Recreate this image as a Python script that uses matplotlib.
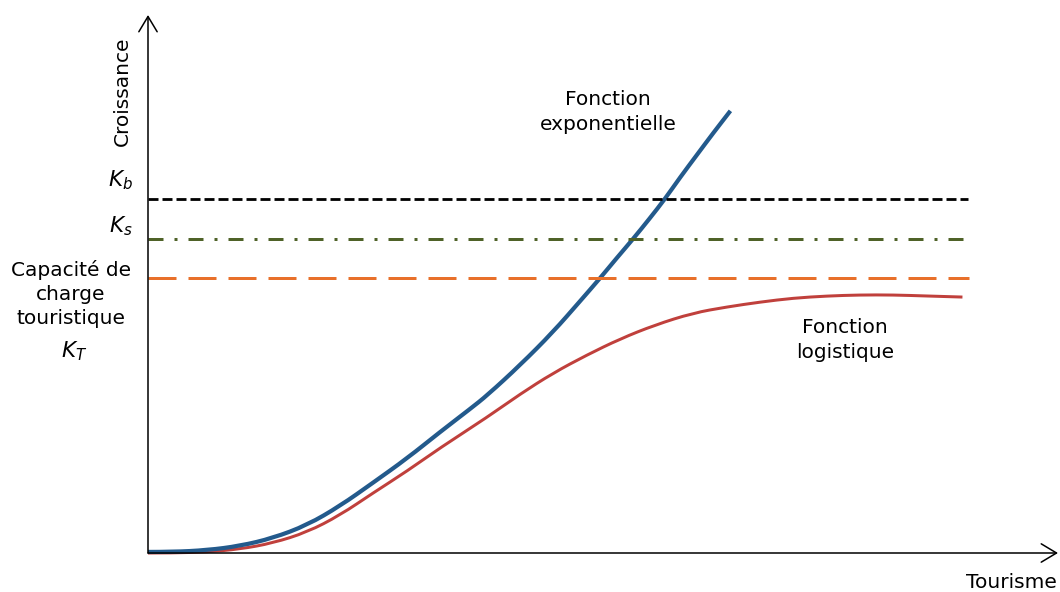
import matplotlib
matplotlib.use("Agg")
import matplotlib.pyplot as plt
from matplotlib.path import Path
from matplotlib.patches import PathPatch

plt.rcParams['font.family'] = ['DejaVu Sans']
plt.rcParams['mathtext.fontset'] = 'dejavusans'
plt.rcParams['lines.scale_dashes'] = False

# ---- data (Tourisme units 0..100, Croissance units with K_b = 100) ----
exp_x = [0, 2.7, 6.5, 10.1, 13.7, 17.5, 21.1, 24.7, 28.5, 32.1, 35.4, 37.3,
         40.9, 44.5, 47.5, 49.7, 51.5, 53.3, 55.1, 56.8, 58.5, 60.3, 62.1, 64.0]
exp_y = [0.3, 0.3, 0.8, 2.0, 4.2, 7.9, 13.3, 19.8, 26.8, 34.2, 40.7, 44.6,
         53.1, 62.4, 71.2, 77.7, 83.3, 88.7, 94.4, 100.0, 106.2, 112.4, 118.6, 124.9]

log_x = [0, 2.7, 6.5, 10.1, 13.7, 17.5, 21.1, 24.7, 28.5, 32.1, 37.3, 40.9,
         44.5, 48.2, 51.9, 55.7, 59.9, 63.6, 67.3, 70.9, 74.6, 78.2, 81.9, 85.6, 89.5]
log_y = [0, 0, 0.3, 1.1, 2.8, 5.9, 10.7, 16.9, 23.2, 29.7, 38.4, 44.9,
         50.8, 55.9, 60.5, 64.4, 67.8, 69.5, 70.9, 72.0, 72.6, 72.9, 72.9, 72.6, 72.3]

K_b = 100.0
K_s = 88.7
K_T = 77.7
k_line_end = [90.1, 89.6, 90.2]

x_label = "Tourisme"
y_label = "Croissance"
exp_label = "Fonction\nexponentielle"
log_label = "Fonction\nlogistique"
kt_label = "Capacité de\ncharge\ntouristique"

# ---- figure ----
W, H = 1060, 592
fig = plt.figure(figsize=(W / 100, H / 100), dpi=100)
ax = fig.add_axes([0, 0, 1, 1])
sx, sy = 9.1, 3.54          # px per unit
ox, oy = 148, 553           # origin pixel
ax.set_xlim(-ox / sx, (W - ox) / sx)
ax.set_ylim(-(H - oy) / sy, oy / sy)
ax.axis('off')

px = 0.72  # points per pixel

# axes with open arrows
arrow_kw = dict(arrowstyle='->,head_length=0.55,head_width=0.33', lw=1.1,
                color='black', mutation_scale=20, shrinkA=0, shrinkB=0)
ax.annotate('', xy=(0, (oy - 15) / sy), xytext=(0, 0), arrowprops=arrow_kw)
ax.annotate('', xy=((1058 - ox) / sx, 0), xytext=(0, 0), arrowprops=arrow_kw)

# horizontal thresholds
ax.plot([0, k_line_end[0]], [K_b, K_b], color='black', lw=2.8 * px,
        dashes=(10 * px, 4 * px), dash_capstyle='butt')
ax.plot([0, k_line_end[1]], [K_s, K_s], color='#4f6228', lw=3 * px,
        dashes=(15 * px, 11 * px, 3 * px, 11 * px), dash_capstyle='butt')
ax.plot([0, k_line_end[2]], [K_T, K_T], color='#e8702a', lw=3 * px,
        dashes=(28 * px, 12 * px), dash_capstyle='butt')


def smooth_curve(xs, ys, color, lw):
    """Smoothed line through the read points (quadratic Bezier segments)."""
    verts = [(xs[0], ys[0])]
    codes = [Path.MOVETO]
    for i in range(1, len(xs) - 1):
        mx = (xs[i] + xs[i + 1]) / 2
        my = (ys[i] + ys[i + 1]) / 2
        verts += [(xs[i], ys[i]), (mx, my)]
        codes += [Path.CURVE3, Path.CURVE3]
    verts.append((xs[-1], ys[-1]))
    codes.append(Path.LINETO)
    patch = PathPatch(Path(verts, codes), facecolor='none', edgecolor=color,
                      lw=lw, capstyle='butt', joinstyle='round')
    ax.add_patch(patch)


smooth_curve(log_x, log_y, '#c0403c', 3 * px)
smooth_curve(exp_x, exp_y, '#235a8c', 4.2 * px)

fs = 14.5
def T(px_x, px_y):
    return ((px_x - ox) / sx, (oy - px_y) / sy)

ax.text(*T(122, 91), y_label, rotation=90, ha='center', va='center', fontsize=fs)
ax.text(*T(1011, 582), x_label, ha='center', va='center', fontsize=fs)
ax.text(*T(120, 180), r'$K_b$', ha='center', va='center', fontsize=fs + 1)
ax.text(*T(121, 226), r'$K_s$', ha='center', va='center', fontsize=fs + 1)
ax.text(*T(71, 294), kt_label, ha='center', va='center', fontsize=fs,
        linespacing=1.35)
ax.text(*T(74, 351), r'$K_T$', ha='center', va='center', fontsize=fs + 1)
ax.text(*T(608, 112), exp_label, ha='center', va='center', fontsize=fs,
        linespacing=1.35)
ax.text(*T(845, 340), log_label, ha='center', va='center', fontsize=fs,
        linespacing=1.35)

fig.savefig('out.png', dpi=100)
